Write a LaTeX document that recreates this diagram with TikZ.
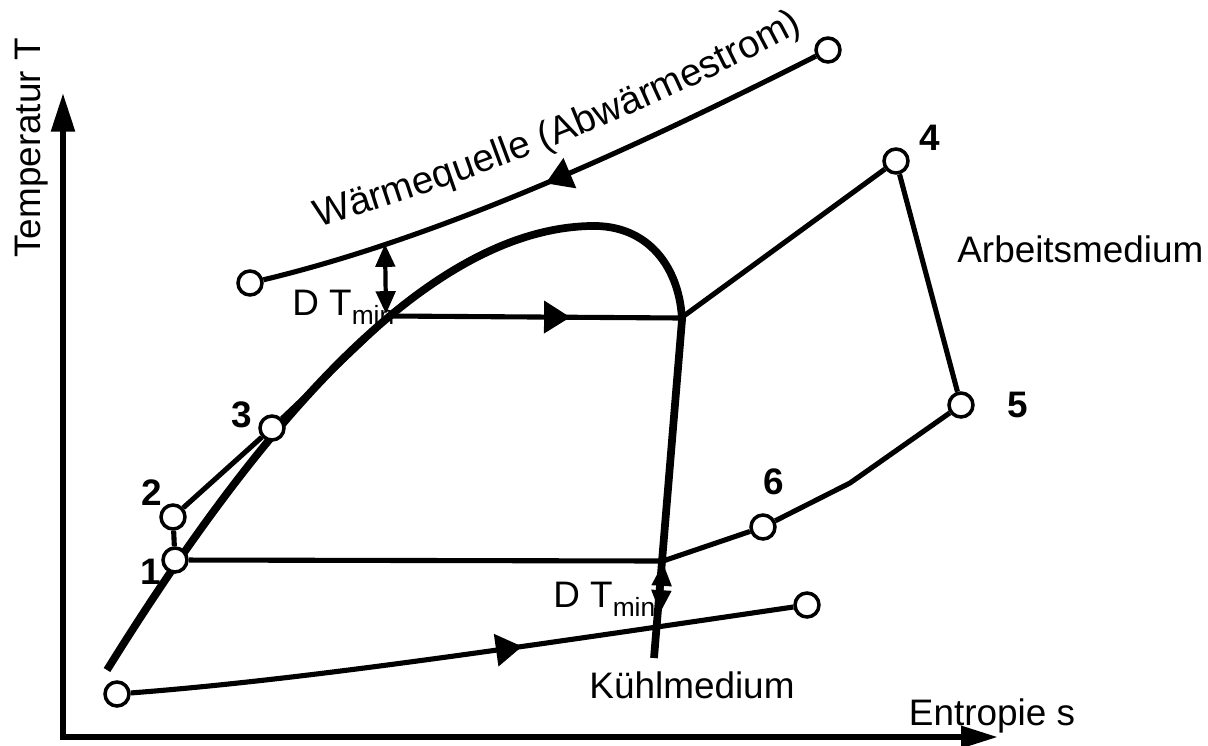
\documentclass[tikz,border=0pt]{standalone}
\usepackage{fontspec}
\setmainfont{Liberation Sans}
\usepackage{tikz}
\usetikzlibrary{arrows.meta,decorations.markings,decorations.text}

\tikzset{
  kreis/.style={circle, draw, fill=white, line width=2pt, minimum size=0.48cm, inner sep=0pt},
  linie/.style={line width=2.9pt},
  achse/.style={line width=3.4pt},
  txt/.style={font=\fontsize{21}{25}\selectfont, inner sep=0pt},
  nummer/.style={font=\fontsize{21}{25}\selectfont\bfseries},
  mitpfeil/.style={postaction={decorate}, decoration={markings,
      mark=at position #1 with {\arrow{Triangle[length=15pt,width=18pt]}}}},
  dt/.style={line width=2.4pt, {Triangle[length=13pt,width=11pt]}-{Triangle[length=13pt,width=11pt]}},
}
\newcommand{\dtmin}{D T\raisebox{-5.5pt}{\fontsize{15}{18}\selectfont min}}

\begin{document}
\begin{tikzpicture}[x=0.02cm, y=-0.02cm]
    \useasboundingbox (0,0) rectangle (1208,745);

    % Achsen
    \coordinate (ursprung) at (63,737);
    \coordinate (ymax) at (63,93);
    \coordinate (xmax) at (998,737);
    \draw[achse, {Triangle[length=22pt,width=13pt]}-{Triangle[length=21pt,width=12pt]}] (ymax) -- (ursprung) -- (xmax);
    \node[txt, rotate=90, anchor=base] (tlabel) at (40,148) {Temperatur T};
    \node[txt, anchor=base] (slabel) at (992,725) {Entropie s};

    % Nassdampfgebiet
    \draw[line width=4.4pt] (107,670) .. controls (250,440) and (420,230) .. (590,226)
                            .. controls (650,224) and (680,270) .. (682,320) -- (654,658);

    % Waermequelle
    \node[kreis] (q1) at (250,283) {};
    \node[kreis] (q2) at (828,50) {};
    \draw[linie, mitpfeil=0.5] (q2) .. controls (650,140) and (450,235) .. (q1);
    \path[decorate, decoration={text along path, text align=center,
        text={|\fontsize{22}{26}\selectfont|Wärmequelle (Abwärmestrom)}}]
        (306,231) .. controls (470,182) and (645,118) .. (814,24);

    % Arbeitsmedium
    \node[kreis] (p1) at (175,560) {};
    \node[kreis] (p2) at (173,517) {};
    \node[kreis] (p3) at (272,428) {};
    \node[kreis] (p4) at (896,161) {};
    \node[kreis] (p5) at (961,405) {};
    \node[kreis] (p6) at (763,527) {};
    \coordinate (a) at (390,316);
    \coordinate (b) at (681,318);
    \coordinate (c) at (850,483);
    \coordinate (d) at (663,561);
    \draw[linie] (p1) -- (p2) -- (p3) -- (a);
    \draw[linie, mitpfeil=0.62] (a) -- (b);
    \draw[linie] (b) -- (p4) -- (p5) -- (c) -- (p6) -- (d) -- (p1);
    \node[nummer] (n1) at (151,572) {1};
    \node[nummer] (n2) at (152,493) {2};
    \node[nummer] (n3) at (242,415) {3};
    \node[nummer] (n4) at (930,138) {4};
    \node[nummer] (n5) at (1018,405) {5};
    \node[nummer] (n6) at (774,482) {6};
    \node[txt, anchor=base west] (arbeit) at (957,262) {Arbeitsmedium};

    % Kuehlmedium
    \node[kreis] (k1) at (117,694) {};
    \node[kreis] (k2) at (807,605) {};
    \draw[linie, mitpfeil=0.59] (k1) .. controls (300,680) and (500,650) .. (k2);
    \node[txt, anchor=base] (kuehl) at (692,698) {Kühlmedium};

    % Grädigkeiten
    \coordinate (dt1o) at (385,244);
    \coordinate (dt1u) at (386,314);
    \coordinate (dt2o) at (663,563);
    \coordinate (dt2u) at (660,613);
    \draw[dt] (dt1o) -- (dt1u);
    \draw[dt] (dt2o) -- (dt2u);
    \node[txt, anchor=base west] (dtoben) at (292,315) {\dtmin};
    \node[txt, anchor=base west] (dtunten) at (553,607) {\dtmin};
\end{tikzpicture}
\end{document}
